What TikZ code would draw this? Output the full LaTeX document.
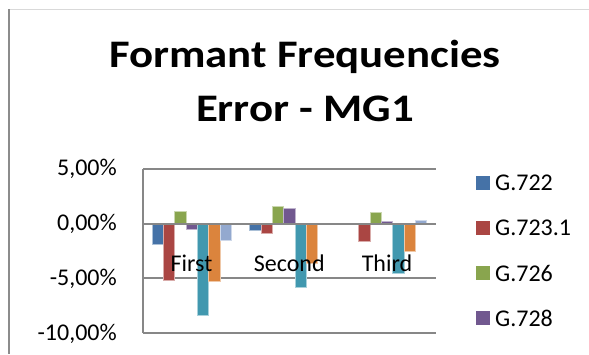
\documentclass[tikz,border=0pt]{standalone}
\usepackage{fontspec}
\setmainfont{Carlito}
\definecolor{serA}{HTML}{4572A7}
\definecolor{serB}{HTML}{AA4643}
\definecolor{serC}{HTML}{89A54E}
\definecolor{serD}{HTML}{71588F}
\definecolor{serE}{HTML}{4198AF}
\definecolor{serF}{HTML}{DB843D}
\definecolor{serG}{HTML}{93A9CF}
\tikzset{
  grid line/.style={draw=black!47,line width=1.5pt},
  tick label/.style={font=\fontsize{24}{24}\selectfont,inner sep=1pt},
  bar/.style={fill=#1,draw=#1!45!white,line width=0.4pt}
}
\begin{document}
\begin{tikzpicture}[x=1pt,y=-1pt]
  \useasboundingbox (0,0) rectangle (589,354);
  % chart frame
  \draw[black!15,line width=0.8pt] (9,9) -- (589,9);
  \draw[black!45,line width=2pt] (9,9) -- (9,354);

  % title
  \node[font=\bfseries\fontsize{39}{54}\selectfont,align=center,xscale=1.15] (title) at (305,81) {Formant Frequencies\\Error - MG1};

  % gridlines and axis
  \foreach \y in {169,278,333}
    \draw[grid line] (143,\y) -- (436,\y);
  \draw[grid line] (143,169) -- (143,333);
  \foreach \v/\t in {5/{5,00\%},0/{0,00\%},-5/{-5,00\%},-10/{-10,00\%}}
    \node[tick label,anchor=east] (ylab\v) at (118,{224-11*\v}) {\t};

  % bars
  \foreach \s/\col/\a/\b/\c in {0/serA/-1.8/-0.6/0, 1/serB/-5.1/-0.8/-1.55,
      2/serC/1.2/1.6/1.1, 3/serD/-0.5/1.4/0.25, 4/serE/-8.3/-5.7/-4.5,
      5/serF/-5.2/-3.6/-2.45, 6/serG/-1.5/0/0.35} {
    \foreach \k/\v in {0/\a,1/\b,2/\c}
      \path[bar=\col] ({152+\k*97.67+\s*11.3},224) rectangle ++(11.3,{-11*\v});
  }
  \draw[grid line] (143,224) -- (436,224);

  % category labels
  \node[tick label] (catA) at (191.5,263) {First};
  \node[tick label] (catB) at (289.3,263) {Second};
  \node[tick label] (catC) at (387,263) {Third};

  % legend
  \foreach \n/\col/\t in {0/serA/G.722,1/serB/G.723.1,2/serC/G.726,3/serD/G.728} {
    \fill[\col] (476,{176+45*\n}) rectangle ++(14,14);
    \node[tick label,anchor=west] (leg\n) at (494,{183+45*\n}) {\t};
  }
\end{tikzpicture}
\end{document}
